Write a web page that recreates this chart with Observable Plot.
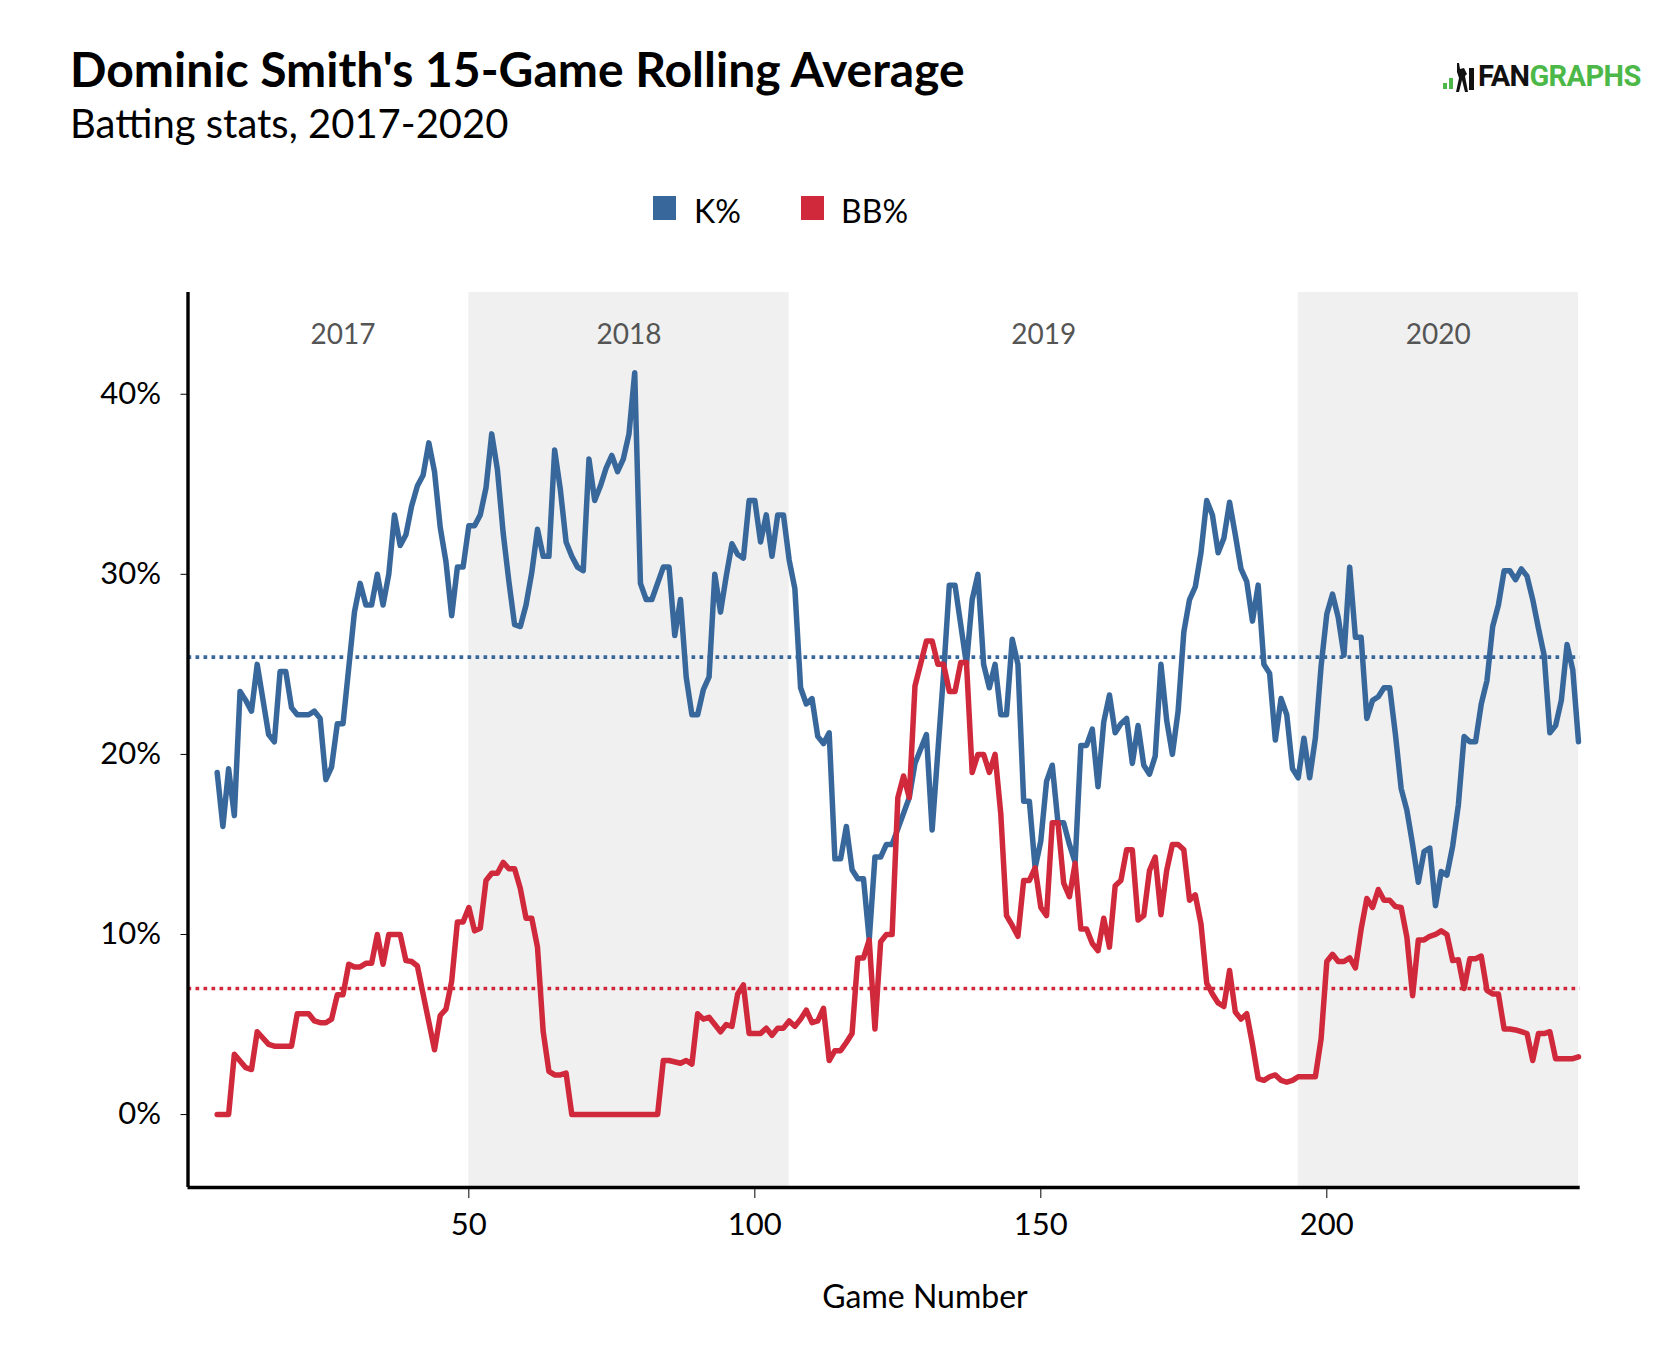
<!DOCTYPE html>
<html>
<head>
<meta charset="utf-8">
<script src="https://cdn.jsdelivr.net/npm/d3@7"></script>
<script src="https://cdn.jsdelivr.net/npm/@observablehq/plot@0.6"></script>
<style>
  html, body { margin: 0; padding: 0; background: #fff; }
  #wrap { position: relative; width: 1668px; height: 1358px; font-family: Lato, "Open Sans", sans-serif; color: #000; }
  #wrap .abs { position: absolute; line-height: 1; white-space: nowrap; }
  #title { left: 70px; top: 45px; font-size: 48px; font-weight: 700; }
  #subtitle { left: 70px; top: 103px; font-size: 40px; font-weight: 400; }
  .sw { position: absolute; width: 23px; height: 24px; top: 196px; }
  .lg { font-size: 32px; top: 195px; }
  #xlabel { font-size: 32px; top: 1280px; left: 925px; transform: translateX(-50%); }
  #logo { left: 1443px; top: 60px; width: 200px; height: 34px; }
  #logotext { left: 1478px; top: 62px; font-family: Roboto, "Liberation Sans", sans-serif; font-weight: 700; font-size: 29px; letter-spacing: -0.6px; }
  #chart { position: absolute; left: 0; top: 0; }
</style>
</head>
<body>
<div id="wrap">
  <div id="chart"></div>
  <div id="title" class="abs">Dominic Smith's 15-Game Rolling Average</div>
  <div id="subtitle" class="abs">Batting stats, 2017-2020</div>
  <div class="sw" style="left:653px;background:#38689b"></div>
  <div class="abs lg" style="left:694px">K%</div>
  <div class="sw" style="left:801px;background:#d0293b"></div>
  <div class="abs lg" style="left:841px">BB%</div>
  <div id="xlabel" class="abs">Game Number</div>
  <svg id="logo" class="abs" viewBox="0 0 200 34" width="200" height="34">
    <rect x="0" y="23" width="4" height="6" fill="#4cb848"></rect>
    <rect x="6" y="18" width="4" height="11" fill="#4cb848"></rect>
    <polygon points="14,3 16,3 17,9 21,8 24,14 22,16 25,32 22,32 19,20 16,32 13,32 16,18 14,12" fill="#111"></polygon>
    <rect x="26" y="8" width="5" height="22" fill="#111"></rect>
  </svg>
  <div id="logotext" class="abs"><span style="color:#111">FAN</span><span style="color:#4cb848">GRAPHS</span></div>
</div>
<script>
// ---- data ----
const kPct = [
  [6,19.0],[7,16.0],[8,19.2],[9,16.6],[10,23.5],[11,23.0],[12,22.4],[13,25.0],[15,21.1],[16,20.7],
  [17,24.6],[18,24.6],[19,22.6],[20,22.2],[22,22.2],[23,22.4],[24,22.0],[25,18.6],[26,19.3],[27,21.7],
  [28,21.7],[30,27.9],[31,29.5],[32,28.3],[33,28.3],[34,30.0],[35,28.3],[36,30.0],[37,33.3],[38,31.6],
  [39,32.2],[40,33.8],[41,34.9],[42,35.5],[43,37.3],[44,35.7],[45,32.6],[46,30.7],[47,27.7],[48,30.4],
  [49,30.4],[50,32.7],[51,32.7],[52,33.3],[53,34.8],[54,37.8],[55,35.8],[56,32.3],[57,29.6],[58,27.2],
  [59,27.1],[60,28.3],[61,30.1],[62,32.5],[63,31.0],[64,31.0],[65,36.9],[66,34.7],[67,31.8],[68,31.0],
  [69,30.4],[70,30.2],[71,36.4],[72,34.1],[73,34.9],[74,35.9],[75,36.6],[76,35.7],[77,36.4],[78,37.8],
  [79,41.2],[80,29.5],[81,28.6],[82,28.6],[84,30.4],[85,30.4],[86,26.6],[87,28.6],[88,24.3],[89,22.2],
  [90,22.2],[91,23.6],[92,24.3],[93,30.0],[94,27.9],[95,29.9],[96,31.7],[97,31.1],[98,30.9],[99,34.1],
  [100,34.1],[101,31.8],[102,33.3],[103,31.0],[104,33.3],[105,33.3],[106,30.8],[107,29.2],[108,23.7],[109,22.8],
  [110,23.1],[111,21.0],[112,20.6],[113,21.2],[114,14.2],[115,14.2],[116,16.0],[117,13.6],[118,13.1],[119,13.1],
  [120,9.7],[121,14.3],[122,14.3],[123,15.0],[124,15.0],[127,17.6],[128,19.5],[130,21.1],[131,15.8],[133,24.5],
  [134,29.4],[135,29.4],[137,25.0],[138,28.6],[139,30.0],[140,25.0],[141,23.7],[142,25.0],[143,22.2],[144,22.2],
  [145,26.4],[146,25.0],[147,17.4],[148,17.4],[149,13.7],[150,15.2],[151,18.5],[152,19.4],[153,16.2],[154,16.2],
  [155,15.0],[156,14.0],[157,20.5],[158,20.5],[159,21.4],[160,18.2],[161,21.8],[162,23.3],[163,21.2],[164,21.7],
  [165,22.0],[166,19.5],[167,21.6],[168,19.4],[169,18.9],[170,19.9],[171,25.0],[172,21.9],[173,20.0],[174,22.4],
  [175,26.8],[176,28.6],[177,29.3],[178,31.2],[179,34.1],[180,33.3],[181,31.2],[182,32.0],[183,34.0],[184,32.2],
  [185,30.3],[186,29.6],[187,27.4],[188,29.4],[189,25.0],[190,24.5],[191,20.8],[192,23.1],[193,22.2],[194,19.2],
  [195,18.7],[196,20.9],[197,18.7],[198,20.9],[199,24.9],[200,27.8],[201,28.9],[202,27.6],[203,25.5],[204,30.4],
  [205,26.5],[206,26.5],[207,22.0],[208,23.0],[209,23.2],[210,23.7],[211,23.7],[212,21.1],[213,18.1],[214,16.9],
  [215,15.0],[216,12.9],[217,14.6],[218,14.8],[219,11.6],[220,13.5],[221,13.3],[222,14.9],[223,17.2],[224,21.0],
  [225,20.7],[226,20.7],[227,22.8],[228,24.1],[229,27.1],[230,28.3],[231,30.2],[232,30.2],[233,29.7],[234,30.3],
  [235,29.9],[236,28.6],[237,27.0],[238,25.5],[239,21.2],[240,21.6],[241,23.0],[242,26.1],[243,24.7],[244,20.7]
];
const bbPct = [
  [6,0],[8,0],[9,3.35],[11,2.6],[12,2.5],[13,4.6],[15,3.9],[16,3.8],[19,3.8],[20,5.6],
  [22,5.6],[23,5.2],[24,5.1],[25,5.1],[26,5.3],[27,6.65],[28,6.65],[29,8.35],[30,8.2],[31,8.2],
  [32,8.4],[33,8.4],[34,10.0],[35,8.35],[36,10.0],[38,10.0],[39,8.55],[40,8.5],[41,8.25],[44,3.6],
  [45,5.5],[46,5.85],[47,7.4],[48,10.7],[49,10.7],[50,11.5],[51,10.2],[52,10.35],[53,13.0],[54,13.4],
  [55,13.4],[56,14.0],[57,13.65],[58,13.65],[59,12.55],[60,10.9],[61,10.9],[62,9.3],[63,4.6],[64,2.4],
  [65,2.2],[66,2.2],[67,2.3],[68,0],[83,0],[84,3.0],[85,3.0],[87,2.85],[88,3.0],[89,2.8],
  [90,5.6],[91,5.3],[92,5.4],[93,5.0],[94,4.6],[95,5.0],[96,4.9],[97,6.7],[98,7.2],[99,4.5],
  [101,4.5],[102,4.8],[103,4.4],[104,4.8],[105,4.8],[106,5.2],[107,4.9],[108,5.3],[109,5.8],[110,5.1],
  [111,5.2],[112,5.9],[113,3.0],[114,3.55],[115,3.55],[116,4.0],[117,4.5],[118,8.7],[119,8.7],[120,9.7],
  [121,4.75],[122,9.6],[123,10.0],[124,10.0],[125,17.6],[126,18.8],[127,17.6],[128,23.8],[130,26.3],[131,26.3],
  [132,25.0],[133,25.0],[134,23.5],[135,23.5],[136,25.1],[137,25.1],[138,19.0],[139,20.0],[140,20.0],[141,19.0],
  [142,20.0],[143,16.7],[144,11.05],[145,10.5],[146,9.9],[147,13.0],[148,13.0],[149,13.7],[150,11.5],[151,11.05],
  [152,16.2],[153,16.2],[154,12.85],[155,12.1],[156,13.96],[157,10.3],[158,10.3],[159,9.5],[160,9.1],[161,10.9],
  [162,9.3],[163,12.7],[164,13.0],[165,14.7],[166,14.7],[167,10.8],[168,11.05],[169,13.55],[170,14.3],[171,11.1],
  [172,13.55],[173,15.0],[174,15.0],[175,14.7],[176,11.9],[177,12.2],[178,10.6],[179,7.3],[180,6.7],[181,6.2],
  [182,6.0],[183,8.0],[184,5.7],[185,5.3],[186,5.6],[187,3.9],[188,2.0],[189,1.9],[190,2.1],[191,2.2],
  [192,1.9],[193,1.8],[194,1.9],[195,2.1],[198,2.1],[199,4.2],[200,8.5],[201,8.9],[202,8.5],[203,8.5],
  [204,8.7],[205,8.15],[206,10.3],[207,12.0],[208,11.5],[209,12.5],[210,11.9],[211,11.9],[212,11.55],[213,11.5],
  [214,9.85],[215,6.6],[216,9.7],[217,9.7],[218,9.9],[219,10.0],[220,10.2],[221,10.0],[222,8.55],[223,8.6],
  [224,7.0],[225,8.65],[226,8.65],[227,8.8],[228,6.9],[229,6.7],[230,6.7],[231,4.75],[232,4.75],[233,4.7],
  [234,4.6],[235,4.5],[236,3.0],[237,4.5],[238,4.5],[239,4.6],[240,3.1],[243,3.1],[244,3.2]
];
const kAvg = 25.4;
const bbAvg = 7.0;
const seasons = ["2017", "2018", "2019", "2020"];
const seasonStart = [6, 50, 106, 195];
const seasonEnd = [50, 106, 195, 244];
const seasonShaded = [false, true, false, true];
const xTicks = [50, 100, 150, 200];
const yTicks = [0, 10, 20, 30, 40];
const xDomain = [0.9, 244.3];
const yDomain = [-4.05, 45.65];

// ---- build tables ----
const blue = "#38689b", red = "#d0293b";
const kData = kPct.map(([game, value]) => ({game, value}));
const bbData = bbPct.map(([game, value]) => ({game, value}));
const seasonRows = seasons.map((s, i) => ({season: s, start: seasonStart[i], end: seasonEnd[i], shaded: seasonShaded[i]}));

const chart = Plot.plot({
  width: 1668,
  height: 1358,
  marginTop: 292,
  marginBottom: 171,
  marginLeft: 187.5,
  marginRight: 88.3,
  style: {fontFamily: "Lato, 'Open Sans', sans-serif", fontSize: "31px", color: "#000", background: "transparent", overflow: "visible"},
  x: {domain: xDomain, ticks: xTicks, tickSize: 11, tickPadding: 14, label: null},
  y: {domain: yDomain, ticks: yTicks, tickSize: 7, tickPadding: 20, tickFormat: d => d + "%", label: null},
  marks: [
    Plot.rect(seasonRows.filter(d => d.shaded), {x1: "start", x2: "end", y1: () => yDomain[0], y2: () => yDomain[1], fill: "#f0f0f0"}),
    Plot.text(seasonRows, {x: d => (d.start + d.end) / 2, text: "season", frameAnchor: "top", dy: 31.5, fill: "#555", fontSize: 28}),
    Plot.ruleY([kAvg], {stroke: blue, strokeWidth: 3.6, strokeDasharray: "3.7,4.3"}),
    Plot.ruleY([bbAvg], {stroke: red, strokeWidth: 3.6, strokeDasharray: "3.7,4.3"}),
    Plot.line(kData, {x: "game", y: "value", stroke: blue, strokeWidth: 5.5, strokeLinejoin: "round"}),
    Plot.line(bbData, {x: "game", y: "value", stroke: red, strokeWidth: 5.5, strokeLinejoin: "round"}),
    Plot.ruleX([xDomain[0]], {stroke: "#000", strokeWidth: 3.4}),
    Plot.ruleY([yDomain[0]], {stroke: "#000", strokeWidth: 3.6})
  ]
});
document.getElementById("chart").appendChild(chart);
</script>
</body>
</html>
